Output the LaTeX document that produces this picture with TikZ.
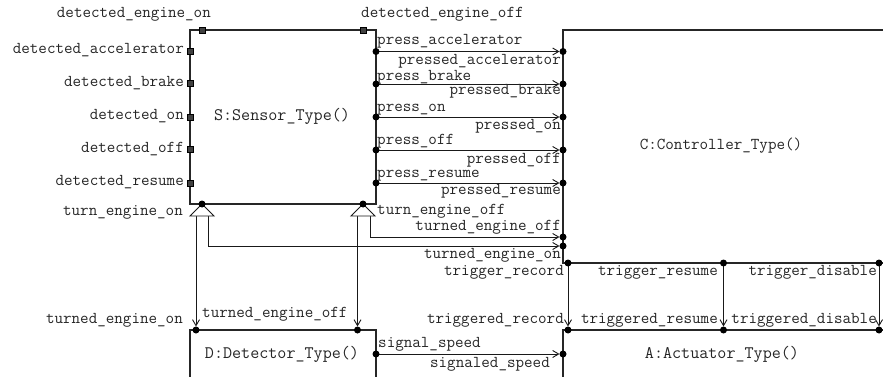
\documentclass[tikz,border=0pt]{standalone}
\usetikzlibrary{arrows.meta}
\begin{document}
\begin{tikzpicture}[x=1pt,y=-1pt,
  lbl/.style={font=\ttfamily\fontsize{16.6}{16.6}\selectfont, inner sep=0pt, text height=7pt, text depth=1.5pt, yshift=-3.6pt, text=black!85},
  boxlbl/.style={font=\ttfamily\fontsize{17.6}{17.6}\selectfont, inner sep=0pt, text height=7pt, text depth=1.5pt, yshift=-3.8pt, text=black!85, anchor=base},
  box/.style={line width=1.3pt, draw=black!85},
  conn/.style={line width=0.9pt, draw=black!90, -{Straight Barb[length=6pt,width=7pt,line width=0.9pt]}, shorten >=3.5pt},
  sq/.style={rectangle, draw=black, fill=black!75, inner sep=0pt, minimum size=6pt, line width=0.6pt},
  forktri/.style={line width=0.9pt, draw=black!90, fill=white}]
\clip (0,0) rectangle (883,377);
\fill[white] (0,0) rectangle (883,377);

% boxes
\draw[box] (190,30) rectangle (376,204);
\draw[box] (890,30) -- (563,30) -- (563,263) -- (890,263);
\draw[box] (890,330) -- (563,330) -- (563,385);
\draw[box] (190,385) -- (190,330) -- (376,330) -- (376,385);

% box labels
\node[boxlbl] (sname) at (282,117) {S:Sensor\_Type()};
\node[lbl,anchor=base] (cname) at (721,146) {C:Controller\_Type()};
\node[boxlbl] (dname) at (282,355) {D:Detector\_Type()};
\node[boxlbl] (aname) at (722,355) {A:Actuator\_Type()};

% sensor input ports (squares)
\node[sq] (pEon)  at (202,30) {};
\node[sq] (pEoff) at (363,30) {};
\node[sq] (pAcc)  at (190,51) {};
\node[sq] (pBrk)  at (190,83) {};
\node[sq] (pOn)   at (190,117) {};
\node[sq] (pOff)  at (190,149) {};
\node[sq] (pRes)  at (190,183) {};

\node[lbl,anchor=base east] (lEon)  at (211,14) {detected\_engine\_on};
\node[lbl,anchor=base west] (lEoff) at (361,14) {detected\_engine\_off};
\node[lbl,anchor=base east] (lAcc)  at (184,50) {detected\_accelerator};
\node[lbl,anchor=base east] (lBrk)  at (184,83) {detected\_brake};
\node[lbl,anchor=base east] (lOn)   at (184,116) {detected\_on};
\node[lbl,anchor=base east] (lOff)  at (184,149) {detected\_off};
\node[lbl,anchor=base east] (lRes)  at (184,182) {detected\_resume};

% sensor -> controller ports
\coordinate (sAcc) at (376,51.5);  \coordinate (cAcc) at (563,51.5);
\coordinate (sBrk) at (376,84);    \coordinate (cBrk) at (563,84);
\coordinate (sOn)  at (376,117);   \coordinate (cOn)  at (563,117);
\coordinate (sOff) at (376,150);   \coordinate (cOff) at (563,150);
\coordinate (sRes) at (376,183);   \coordinate (cRes) at (563,183);
\foreach \a/\b in {sAcc/cAcc,sBrk/cBrk,sOn/cOn,sOff/cOff,sRes/cRes}
  \draw[conn] (\a) -- (\b);

\node[lbl,anchor=base west] (tpa)  at (377,41)  {press\_accelerator};
\node[lbl,anchor=base east] (tpda) at (561,60.5)  {pressed\_accelerator};
\node[lbl,anchor=base west] (tpb)  at (377,76.5)  {press\_brake};
\node[lbl,anchor=base east] (tpdb) at (561,91)  {pressed\_brake};
\node[lbl,anchor=base west] (tpo)  at (377,108) {press\_on};
\node[lbl,anchor=base east] (tpdo) at (561,126) {pressed\_on};
\node[lbl,anchor=base west] (tpf)  at (377,141) {press\_off};
\node[lbl,anchor=base east] (tpdf) at (561,160) {pressed\_off};
\node[lbl,anchor=base west] (tpr)  at (377,174) {press\_resume};
\node[lbl,anchor=base east] (tpdr) at (561,191) {pressed\_resume};

% engine on / off forks
\coordinate (sTEon)  at (202,204);
\coordinate (sTEoff) at (363,204);
\coordinate (fOnA)  at (196,216);  \coordinate (fOnB)  at (208,216);
\coordinate (fOffA) at (357.5,216);\coordinate (fOffB) at (370,216);
\coordinate (dTEon)  at (196,330);
\coordinate (dTEoff) at (357.5,330);
\coordinate (cTEon)  at (563,246);
\coordinate (cTEoff) at (563,237);
\draw[conn] (fOnA) -- (dTEon);
\draw[conn] (fOnB) |- (cTEon);
\draw[conn] (fOffA) -- (dTEoff);
\draw[conn] (fOffB) |- (cTEoff);
\draw[forktri] (sTEon) -- ++(-12,12) -- ++(24,0) -- cycle;
\draw[forktri] (sTEoff) -- ++(-12,12) -- ++(24,0) -- cycle;

\node[lbl,anchor=base east] (tteon)   at (183,212) {turn\_engine\_on};
\node[lbl,anchor=base west] (tteoff)  at (377,211) {turn\_engine\_off};
\node[lbl,anchor=base east] (tdteoff) at (561,227) {turned\_engine\_off};
\node[lbl,anchor=base east] (tcteon)  at (561,255) {turned\_engine\_on};
\node[lbl,anchor=base east] (tdteon)  at (183,320) {turned\_engine\_on};
\node[lbl,anchor=base west] (tdteoff2) at (202,314) {turned\_engine\_off};

% controller -> actuator triggers
\coordinate (cTrec) at (568,263);  \coordinate (aTrec) at (568,330);
\coordinate (cTres) at (723.5,263);\coordinate (aTres) at (723.5,330);
\coordinate (cTdis) at (879,263);  \coordinate (aTdis) at (879,330);
\foreach \a/\b in {cTrec/aTrec,cTres/aTres,cTdis/aTdis}
  \draw[conn] (\a) -- (\b);

\node[lbl,anchor=base east] (ttrec)  at (564,272) {trigger\_record};
\node[lbl,anchor=base east] (ttdrec) at (564,320) {triggered\_record};
\node[lbl,anchor=base east] (ttres)  at (718,272) {trigger\_resume};
\node[lbl,anchor=base east] (ttdres) at (718,320) {triggered\_resume};
\node[lbl,anchor=base east] (ttdis)  at (877,272) {trigger\_disable};
\node[lbl,anchor=base east] (ttddis) at (877,320) {triggered\_disable};

% detector -> actuator
\coordinate (dSpd) at (376,354);  \coordinate (aSpd) at (563,354);
\draw[conn] (dSpd) -- (aSpd);
\node[lbl,anchor=base west] (tss)  at (378,344) {signal\_speed};
\node[lbl,anchor=base east] (tsds) at (550,364) {signaled\_speed};

% dots
\foreach \c in {sAcc,cAcc,sBrk,cBrk,sOn,cOn,sOff,cOff,sRes,cRes,
  sTEon,sTEoff,dTEon,dTEoff,cTEon,cTEoff,
  cTrec,aTrec,cTres,aTres,cTdis,aTdis,dSpd,aSpd}
  \fill[black] (\c) circle (3.5pt);
\end{tikzpicture}
\end{document}
